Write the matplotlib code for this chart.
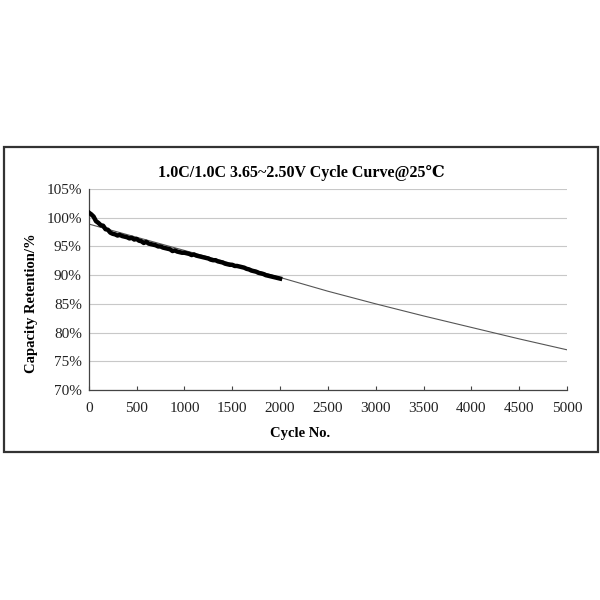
import matplotlib
matplotlib.use("Agg")
import matplotlib.pyplot as plt
from matplotlib.patches import Rectangle
from matplotlib.ticker import FuncFormatter

# ---- data ----
cycles = [0, 25, 50, 75, 100, 125, 150, 175, 200, 225, 250, 275, 300, 325, 350,
          375, 400, 425, 450, 475, 500, 525, 550, 575, 600, 625, 650, 675, 700,
          725, 750, 775, 800, 825, 850, 875, 900, 925, 950, 975, 1000, 1025,
          1050, 1075, 1100, 1125, 1150, 1175, 1200, 1225, 1250, 1275, 1300,
          1325, 1350, 1375, 1400, 1425, 1450, 1475, 1500, 1525, 1550, 1575,
          1600, 1625, 1650, 1675, 1700, 1725, 1750, 1775, 1800, 1825, 1850,
          1875, 1900, 1925, 1950, 1975, 2000]
retention = [100.9, 100.6, 100.2, 99.4, 99.1, 98.7, 98.6, 98.0, 97.9, 97.4,
             97.2, 97.1, 96.9, 97.0, 96.8, 96.7, 96.6, 96.4, 96.5, 96.2, 96.3,
             96.0, 95.9, 95.6, 95.8, 95.5, 95.4, 95.3, 95.2, 95.0, 95.0, 94.8,
             94.7, 94.6, 94.5, 94.2, 94.3, 94.1, 94.0, 93.9, 93.9, 93.8, 93.7,
             93.5, 93.6, 93.4, 93.3, 93.2, 93.1, 93.0, 92.9, 92.7, 92.6, 92.6,
             92.4, 92.3, 92.2, 92.0, 91.9, 91.8, 91.8, 91.6, 91.6, 91.5, 91.4,
             91.3, 91.1, 91.0, 90.8, 90.7, 90.6, 90.4, 90.3, 90.2, 90.0, 89.9,
             89.8, 89.7, 89.6, 89.5, 89.4]

fit_cycles = [0, 500, 1000, 1500, 2000, 2500, 3000, 3500, 4000, 4500, 5000]
fit_retention = [98.9, 96.6, 94.3, 92.0, 89.6, 87.2, 85.0, 82.9, 80.9, 78.9, 77.0]

x_ticks = [0, 500, 1000, 1500, 2000, 2500, 3000, 3500, 4000, 4500, 5000]
y_ticks = [70, 75, 80, 85, 90, 95, 100, 105]

title = "1.0C/1.0C 3.65~2.50V Cycle Curve@25\u2103"
xlabel = "Cycle No."
ylabel = "Capacity Retention/%"

fam = ["Liberation Serif", "DejaVu Serif", "DejaVu Sans"]
plt.rcParams["font.family"] = fam

fig = plt.figure(figsize=(6, 6), dpi=100)
fig.patch.set_facecolor("white")

# outer border box
fig.patches.append(Rectangle((0.006, 0.247), 0.990, 0.508, transform=fig.transFigure,
                             fill=False, edgecolor="#333333", linewidth=1.6))

ax = fig.add_axes([0.148, 0.350, 0.797, 0.335])
ax.set_xlim(0, 5000)
ax.set_ylim(70, 105)

ax.plot(fit_cycles, fit_retention, color="#555555", linewidth=0.8, zorder=2)
ax.plot(cycles, retention, color="black", linewidth=3.2, zorder=3,
        solid_joinstyle="round")

ax.set_xticks(x_ticks)
ax.set_yticks(y_ticks)
ax.yaxis.set_major_formatter(FuncFormatter(lambda v, p: f"{int(v)}%"))
ax.grid(axis="y", color="#c8c8c8", linewidth=0.8)
ax.set_axisbelow(True)

for s in ["top", "right"]:
    ax.spines[s].set_visible(False)
for s in ["left", "bottom"]:
    ax.spines[s].set_color("#444444")
    ax.spines[s].set_linewidth(0.9)

ax.tick_params(axis="x", direction="in", length=3, color="#444444",
               labelsize=11, pad=9)
ax.tick_params(axis="y", length=0, labelsize=11, pad=5)
for lab in ax.get_xticklabels() + ax.get_yticklabels():
    lab.set_color("#222222")

fig.text(0.503, 0.712, title, fontsize=11.5, fontweight="bold",
         ha="center", va="center")
ax.set_xlabel(xlabel, fontsize=10.5, fontweight="bold")
ax.xaxis.set_label_coords(0.441, -0.182)
ax.set_ylabel(ylabel, fontsize=10.5, fontweight="bold")
ax.yaxis.set_label_coords(-0.107, 0.43)

fig.savefig("out.png", dpi=100, facecolor="white")
